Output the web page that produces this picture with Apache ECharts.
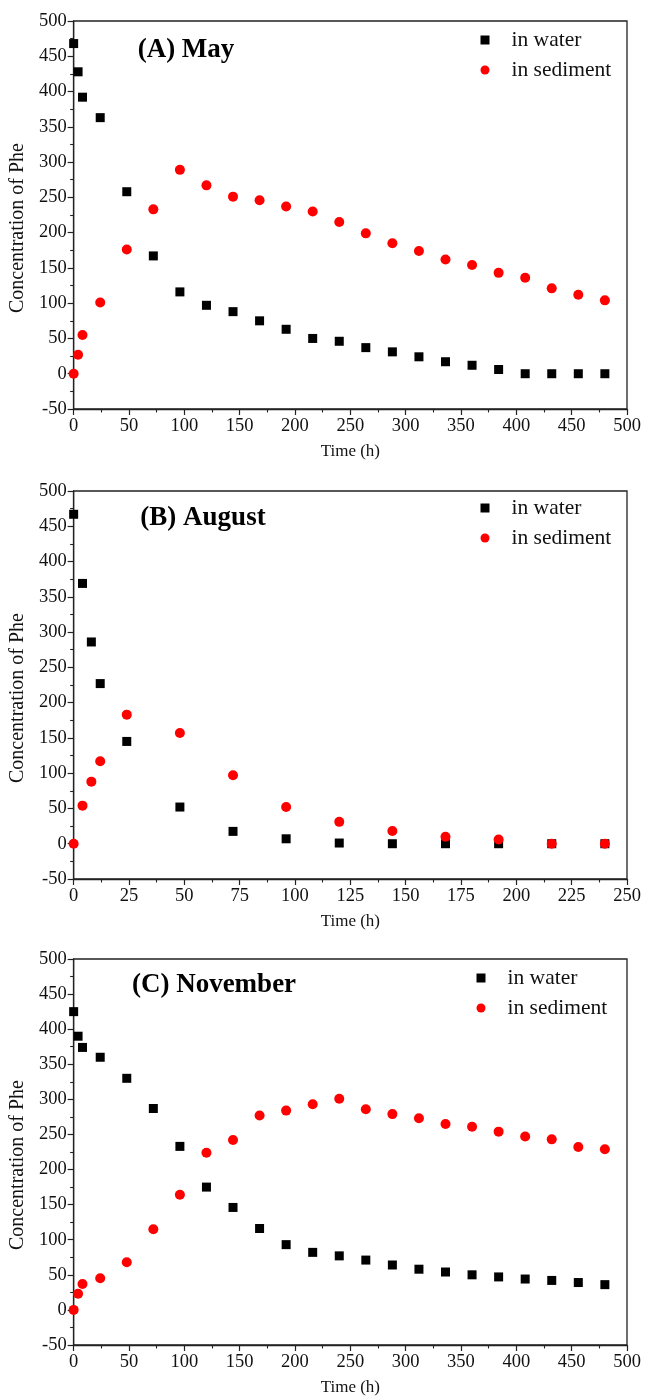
<!DOCTYPE html>
<html>
<head>
<meta charset="utf-8">
<script src="https://cdn.jsdelivr.net/npm/echarts@6/dist/echarts.min.js"></script>
<style>
  html, body { margin: 0; padding: 0; background: #ffffff; }
  #chart { width: 646px; height: 1397px; }
</style>
</head>
<body>
<div id="chart"></div>
<script>
// Sampling times (h)
const hoursLong = [0, 4, 8, 24, 48, 72, 96, 120, 144, 168, 192, 216, 240, 264, 288, 312, 336, 360, 384, 408, 432, 456, 480];
const hoursAug = [0, 4, 8, 12, 24, 48, 72, 96, 120, 144, 168, 192, 216, 240];

// Concentration of Phe, May
const mayWater = [468, 428, 392, 363, 258, 167, 116, 97, 88, 75, 63, 50, 46, 37, 31, 24, 17, 12, 6, 0, 0, 0, 0];
const maySediment = [0, 27, 55, 101, 176, 233, 289, 267, 251, 246, 237, 230, 215, 199, 185, 174, 162, 154, 143, 136, 121, 112, 104];

// Concentration of Phe, August
const augWater = [467, 369, 286, 227, 145, 52, 17.5, 7, 1, 0, 0, 0, 0, 0];
const augSediment = [0, 54, 88, 117, 183, 157, 97, 52, 31, 18, 10, 6, 0, 0];

// Concentration of Phe, November
const novWater = [425, 390, 374, 360, 330, 287, 233, 175, 146, 116, 93, 82, 77, 71, 64, 58, 54, 50, 47, 44, 42, 39, 36];
const novSediment = [0, 23, 37, 45, 68, 115, 164, 224, 242, 277, 284, 293, 301, 286, 279, 273, 265, 261, 254, 247, 243, 232, 229];

// Axis ranges and panel headings
const panelTitles = ['(A) May', '(B) August', '(C) November'];
const xMaxes = [500, 250, 500];
const xSteps = [50, 25, 50];
const yMin = -50, yMax = 500, yStep = 50;

const panels = [
  { t: hoursLong, water: mayWater, sed: maySediment },
  { t: hoursAug, water: augWater, sed: augSediment },
  { t: hoursLong, water: novWater, sed: novSediment }
];

const FONT = '"Liberation Serif", "Times New Roman", serif';
const INK = '#111111';
const gridTops = [21, 491, 959];
const legendTops = [29, 497, 967];
const legendLefts = [480.5, 480.5, 476.5];
const titlePos = [[186, 50], [203, 518], [214, 985]];

const grid = gridTops.map(top => ({
  left: 73, top: top, width: 554, height: 388,
  show: true, borderColor: '#222', borderWidth: 1.3, backgroundColor: 'transparent'
}));

const xAxis = panels.map((p, i) => ({
  type: 'value', gridIndex: i, min: 0, max: xMaxes[i], interval: xSteps[i],
  name: 'Time (h)', nameLocation: 'middle', nameGap: 34,
  nameTextStyle: { fontFamily: FONT, fontSize: 17, color: INK },
  axisLine: { show: true, onZero: false, lineStyle: { color: '#222', width: 1.3 } },
  axisTick: { show: true, inside: false, length: 6, lineStyle: { color: '#222', width: 1.2 } },
  minorTick: { show: true, splitNumber: 2, length: 3.5, lineStyle: { color: '#222', width: 1.1 } },
  axisLabel: { margin: 8, fontFamily: FONT, fontSize: 18.5, color: INK },
  splitLine: { show: false }
}));

const yAxis = panels.map((p, i) => ({
  type: 'value', gridIndex: i, min: yMin, max: yMax, interval: yStep,
  name: 'Concentration of Phe', nameLocation: 'middle', nameGap: 44,
  nameTextStyle: { fontFamily: FONT, fontSize: 20, color: INK, padding: [0, 26, 0, 0] },
  axisLine: { show: true, onZero: false, lineStyle: { color: '#222', width: 1.3 } },
  axisTick: { show: true, inside: false, length: 6, lineStyle: { color: '#222', width: 1.2 } },
  minorTick: { show: true, splitNumber: 2, length: 3.5, lineStyle: { color: '#222', width: 1.1 } },
  axisLabel: { margin: 7, fontFamily: FONT, fontSize: 18.5, color: INK },
  splitLine: { show: false }
}));

const series = [];
panels.forEach((p, i) => {
  series.push({
    name: 'in water', type: 'scatter', xAxisIndex: i, yAxisIndex: i,
    symbol: 'rect', symbolSize: 9, clip: false,
    itemStyle: { color: '#000000', opacity: 1 },
    data: p.t.map((t, k) => [t, p.water[k]])
  });
  series.push({
    name: 'in sediment', type: 'scatter', xAxisIndex: i, yAxisIndex: i,
    symbol: 'circle', symbolSize: 10, clip: false,
    itemStyle: { color: '#ff0000', opacity: 1 },
    data: p.t.map((t, k) => [t, p.sed[k]])
  });
});

const legend = legendTops.map((top, i) => ({
  orient: 'vertical', left: legendLefts[i], top: top, padding: 0,
  itemWidth: 9, itemHeight: 9, itemGap: 8,
  data: [{ name: 'in water', icon: 'rect' }, { name: 'in sediment', icon: 'circle' }],
  itemStyle: { opacity: 1 },
  textStyle: { fontFamily: FONT, fontSize: 21.5, lineHeight: 21, color: INK, padding: [0, 0, 0, 17] }
}));

const graphic = panelTitles.map((txt, i) => ({
  type: 'text', x: titlePos[i][0], y: titlePos[i][1], z: 10,
  style: {
    text: txt, fontFamily: FONT, fontWeight: 'bold', fontSize: 27, fill: '#000',
    textAlign: 'center', textVerticalAlign: 'middle'
  }
}));

const chart = echarts.init(document.getElementById('chart'), null, { renderer: 'canvas' });
chart.setOption({
  animation: false,
  backgroundColor: '#ffffff',
  grid: grid,
  xAxis: xAxis,
  yAxis: yAxis,
  legend: legend,
  graphic: graphic,
  series: series
});
</script>
</body>
</html>
